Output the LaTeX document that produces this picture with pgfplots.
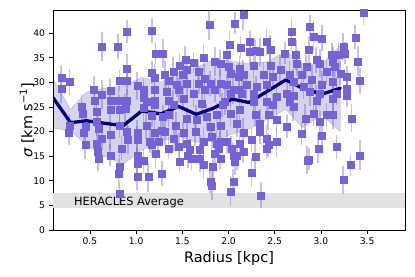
\documentclass[border=0pt]{standalone}
\usepackage{fontspec}
\setmainfont{DejaVu Sans}
\usepackage{pgfplots}
\pgfplotsset{compat=1.18}
\usepackage{pgfplotstable}
\definecolor{pts}{RGB}{118,98,216}
\definecolor{navyc}{RGB}{0,0,128}
\definecolor{heracles}{RGB}{226,226,226}

\pgfplotstableread{
x y e
0.19 31.0 2.4
0.19 28.7 2.8
0.28 30.1 2.6
0.28 21.3 2.2
0.27 19.8 2.6
0.63 37.3 3.0
0.80 37.3 2.6
0.90 40.3 2.4
0.90 32.9 2.8
0.82 30.4 2.2
0.90 30.4 3.0
0.41 25.1 2.6
0.42 23.6 2.4
0.54 28.5 2.8
0.55 26.4 2.2
0.63 27.5 3.0
0.72 26.4 2.6
0.72 28.3 2.4
0.81 26.4 2.8
0.90 26.4 2.2
0.88 24.6 3.0
0.45 21.0 2.6
0.43 19.7 2.4
0.45 17.3 2.8
0.57 24.0 2.2
0.57 22.0 3.0
0.59 20.7 2.6
0.63 18.6 2.4
0.57 17.6 2.8
0.58 16.0 2.2
0.59 14.6 2.6
0.72 24.4 2.4
0.72 19.3 2.8
0.72 15.2 2.2
0.82 24.4 3.0
0.82 21.3 2.6
0.84 16.6 2.4
0.91 18.3 2.8
0.90 20.0 2.2
0.81 11.5 3.0
0.82 12.9 2.6
0.82 7.5 2.4
1.01 29.3 2.8
1.08 28.5 2.2
1.08 26.9 3.0
1.08 24.8 2.6
1.01 19.9 2.4
1.01 18.3 2.8
1.01 15.2 2.2
1.01 13.6 3.0
1.01 10.8 2.6
1.11 26.1 2.4
1.11 21.3 2.8
1.08 14.2 2.2
1.13 10.8 3.0
1.17 40.5 2.6
1.17 32.0 2.4
1.20 30.9 2.8
1.21 35.9 2.2
1.29 35.9 3.0
1.20 28.5 2.6
1.20 26.4 2.4
1.20 25.4 2.8
1.17 23.2 2.2
1.20 19.8 3.0
1.27 20.2 2.6
1.15 18.0 2.4
1.24 18.0 2.8
1.17 17.3 2.2
1.21 15.6 3.0
1.28 11.5 2.6
1.29 23.0 2.4
1.31 31.5 2.8
1.35 30.3 2.2
1.33 28.1 3.0
1.35 26.4 2.6
1.35 23.4 2.4
1.31 20.0 2.8
1.35 16.6 2.2
1.40 25.4 3.0
1.43 21.3 2.6
1.41 18.5 2.4
1.46 16.9 2.8
1.47 13.9 2.2
1.40 32.2 3.0
1.44 29.6 2.6
1.47 33.5 2.4
1.53 34.6 2.8
1.62 34.0 2.2
1.50 31.5 3.0
1.55 32.6 2.6
1.67 32.2 2.4
1.73 35.0 2.8
1.68 29.8 2.2
1.79 41.7 3.0
1.55 29.8 2.6
1.46 28.5 2.4
1.62 27.8 2.8
1.74 28.5 2.2
1.74 30.8 3.0
1.80 29.8 2.6
1.85 28.5 2.4
1.91 29.8 2.8
1.98 29.5 2.2
2.05 28.5 3.0
2.02 27.8 2.6
2.12 28.5 2.4
1.96 26.1 2.8
1.51 26.8 2.2
1.85 34.2 3.0
1.91 33.9 2.6
1.98 35.6 2.4
2.01 37.6 2.8
2.13 37.1 2.2
2.00 33.2 3.0
2.02 31.8 2.6
2.12 32.9 2.4
2.11 31.2 2.8
2.07 42.0 2.2
2.16 43.7 3.0
1.71 25.7 2.6
1.93 25.4 2.4
2.12 24.4 2.8
1.55 22.7 2.2
1.65 22.4 3.0
1.76 23.0 2.6
1.87 23.4 2.4
2.02 23.7 2.8
1.51 19.7 2.2
1.64 20.0 3.0
1.80 21.0 2.6
1.91 21.3 2.4
2.09 21.7 2.8
1.55 17.6 2.2
1.73 18.0 3.0
1.82 19.0 2.6
1.98 18.0 2.4
2.12 17.6 2.8
1.58 16.3 2.2
1.69 16.3 3.0
1.89 16.6 2.6
2.03 16.6 2.4
1.69 14.6 2.8
1.91 14.6 2.2
2.09 15.2 3.0
1.56 15.2 2.6
1.60 14.6 2.4
1.73 13.2 2.8
1.80 9.8 2.2
1.82 9.1 3.0
1.83 12.9 2.6
1.85 15.6 2.4
1.87 17.6 2.8
1.91 18.0 2.2
2.02 7.8 3.0
2.05 9.8 2.6
2.05 15.2 2.4
2.07 13.9 2.8
2.16 15.9 2.2
2.25 11.7 3.0
2.29 14.9 2.6
2.25 18.3 2.4
2.41 18.6 2.8
2.41 16.6 2.2
2.52 17.9 3.0
2.35 7.1 2.6
2.79 19.6 2.4
2.85 14.2 2.8
2.87 14.4 2.2
2.97 16.6 3.0
3.01 19.2 2.6
3.17 16.9 2.4
3.24 10.2 2.8
3.32 13.2 2.2
3.42 15.2 3.0
3.46 44.2 2.6
2.88 41.3 2.4
2.68 40.3 2.8
2.68 38.3 2.2
2.92 39.4 3.0
3.01 39.0 2.6
3.37 39.2 2.4
2.41 38.3 2.8
2.23 38.3 2.2
2.45 36.6 3.0
2.23 36.2 2.6
2.29 36.5 2.4
2.34 36.2 2.8
2.61 35.9 2.2
2.73 35.6 3.0
2.87 36.6 2.6
3.19 35.7 2.4
3.24 37.3 2.8
3.26 35.9 2.2
3.40 34.3 3.0
3.42 30.3 2.6
3.28 27.4 2.4
3.33 22.7 2.8
3.28 31.2 2.2
3.13 34.2 3.0
2.95 34.6 2.6
3.12 35.6 2.4
2.27 33.5 2.8
2.45 33.5 2.2
2.56 32.5 3.0
2.74 33.9 2.6
2.84 33.2 2.4
2.99 33.9 2.8
3.15 33.2 2.2
2.16 31.5 3.0
2.38 31.5 2.6
2.48 31.2 2.4
2.66 31.5 2.8
2.79 31.5 2.2
2.90 30.5 3.0
3.06 32.2 2.6
3.21 31.8 2.4
2.19 29.5 2.8
2.30 29.1 2.2
2.41 29.5 3.0
2.70 30.1 2.6
2.81 29.1 2.4
3.01 29.5 2.8
3.13 30.1 2.2
2.14 27.8 3.0
2.27 27.8 2.6
2.52 27.1 2.4
2.63 27.8 2.8
2.70 27.4 2.2
2.88 28.1 3.0
2.99 27.8 2.6
3.17 27.8 2.4
2.41 26.1 2.8
2.66 26.1 2.2
2.95 26.4 3.0
3.13 26.8 2.6
3.28 28.8 2.4
2.27 26.1 2.8
2.48 25.4 2.2
2.70 25.1 3.0
2.92 23.7 2.6
3.06 23.4 2.4
3.13 23.4 2.8
2.29 23.4 2.2
2.43 23.4 3.0
2.52 22.4 2.6
2.63 21.0 2.4
2.83 22.7 2.8
2.99 22.0 2.2
2.16 19.7 3.0
2.34 20.0 2.6
2.43 17.3 2.4
2.34 21.7 2.8
}\ptstable

\pgfplotstableread{
x y
0.10 26.9
0.29 21.8
0.46 22.2
0.65 21.7
0.86 21.2
1.06 24.2
1.27 23.6
1.46 25.1
1.65 23.5
1.83 24.7
2.04 26.6
2.22 25.9
2.42 28.2
2.62 30.5
2.80 28.8
3.01 27.6
3.21 28.8
}\meantable

\pgfplotstableread{
x y
0.10 30.8
0.29 24.5
0.46 28.0
0.65 28.8
0.86 29.3
1.06 31.0
1.27 30.0
1.46 32.0
1.65 33.0
1.83 34.6
2.04 34.3
2.22 33.8
2.42 34.2
2.62 36.3
2.80 33.9
3.01 33.6
3.21 37.6
3.21 20.0
3.01 23.4
2.80 20.8
2.62 24.5
2.42 22.5
2.22 20.5
2.04 19.5
1.83 18.0
1.65 17.8
1.46 19.0
1.27 18.0
1.06 16.2
0.86 13.4
0.65 15.0
0.46 17.2
0.29 20.2
0.10 20.7
}\bandtable

\begin{document}
\begin{tikzpicture}
\path[use as bounding box] (0,0) rectangle (415bp,277bp);
\begin{axis}[
  at={(53bp,47bp)}, anchor=south west,
  width=352bp, height=220bp, scale only axis,
  xmin=0.1, xmax=3.91, ymin=0, ymax=44.7,
  xtick={0.5,1.0,1.5,2.0,2.5,3.0,3.5},
  ytick={0,5,10,15,20,25,30,35,40},
  tick pos=left, tick align=outside,
  major tick length=4.5bp,
  every tick/.style={black, line width=0.8bp},
  axis line style={black, line width=0.8bp},
  /pgf/number format/assume math mode=true,
  xticklabel style={/pgf/number format/fixed, /pgf/number format/precision=1, /pgf/number format/fixed zerofill},
  tick label style={font=\fontsize{9.2}{11}\selectfont},
  xlabel={Radius [kpc]},
  ylabel={{\itshape σ} [km s\textsuperscript{−1}]},
  label style={font=\fontsize{14.5}{17}\selectfont},
  xlabel style={at={(axis description cs:0.5,-0.1486)}, anchor=base},
  ylabel style={at={(axis description cs:-0.0739,0.5)}, anchor=center, rotate=0},
  clip=true,
]
\addplot[fill=heracles, draw=none] coordinates {(0.1,4.4) (3.91,4.4) (3.91,7.5) (0.1,7.5)} -- cycle;
\node[anchor=base west, inner sep=0pt, font=\fontsize{11.4}{13}\selectfont] at (axis cs:0.327,5.0) {HERACLES Average};
\addplot[fill=navyc, fill opacity=0.17, draw=navyc, draw opacity=0.12, line width=0.8bp] table[x=x,y=y] {\bandtable} -- cycle;
\addplot[pts, only marks, mark=square*, mark size=3.5bp,
  mark options={solid, draw=pts, fill=pts, line width=0.1pt},
  error bars/.cd, y dir=both, y explicit, error mark=none,
  error bar style={line width=1.7bp, draw=pts, opacity=0.4}]
  table[x=x, y=y, y error=e] {\ptstable};
\addplot[navyc, line width=3.3bp, line join=round, line cap=round] table[x=x,y=y] {\meantable};
\end{axis}
\end{tikzpicture}
\end{document}
